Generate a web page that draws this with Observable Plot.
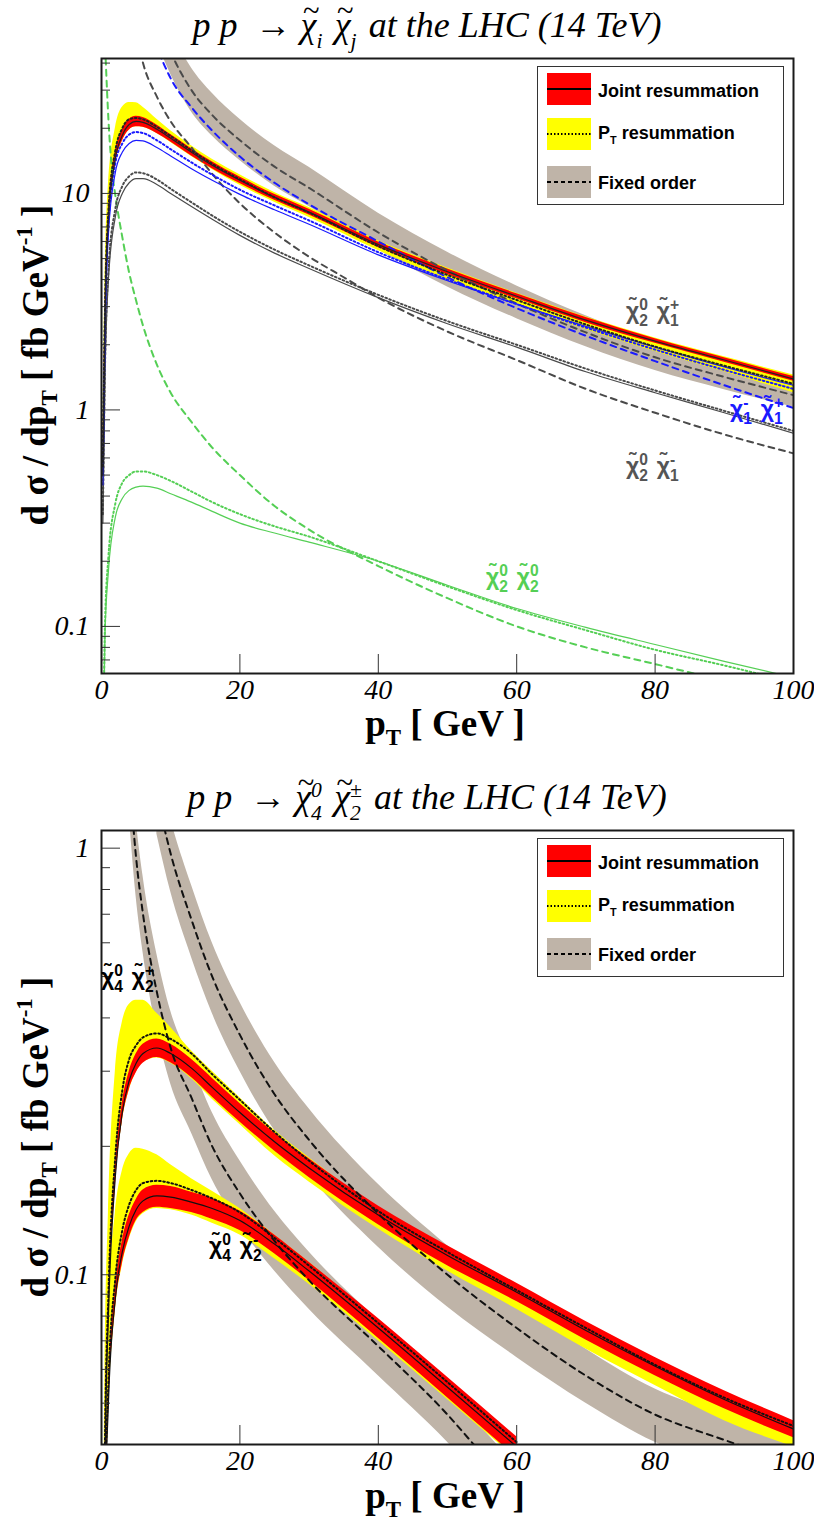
<!DOCTYPE html>
<html><head><meta charset="utf-8">
<script src="https://cdn.jsdelivr.net/npm/d3@7"></script>
<script src="https://cdn.jsdelivr.net/npm/@observablehq/plot@0.6"></script>
<style>
body{margin:0;background:#fff;}
#wrap{position:relative;width:814px;height:1530px;overflow:hidden;background:#fff;}
.panel{position:absolute;left:0;}
.panel text{font-family:"Liberation Serif",serif;font-style:italic;font-size:28px;}
.ov{position:absolute;white-space:nowrap;line-height:1;}
.title{font-family:"Liberation Serif",serif;font-style:italic;font-size:36px;transform:translateX(-50%);}
.tc{position:relative;display:inline-block;}
.tc::before{content:"~";position:absolute;left:0.08em;top:-0.36em;font-style:normal;font-size:0.85em;}
.axt{font-family:"Liberation Serif",serif;font-weight:bold;font-size:37px;}
.axt sub{font-size:0.62em;vertical-align:-0.4em;}
.axt sup{font-size:0.62em;vertical-align:0.7em;}
.ytit{transform:translate(-50%,-50%) rotate(-90deg);}
.xtit{transform:translateX(-50%);}
.lab{font-family:"Liberation Sans",sans-serif;font-weight:bold;font-size:23px;}
.ss{display:inline-block;vertical-align:-0.5em;font-size:0.68em;line-height:1.05;text-align:left;margin-right:0.15em;}
.ss span{display:block;}
.legend{position:absolute;width:247px;height:139px;border:1.5px solid #333;background:#fff;box-sizing:border-box;}
.legend .sw{position:absolute;left:9px;width:44px;height:32px;}
.legend .tx{position:absolute;left:60px;font-family:"Liberation Sans",sans-serif;font-weight:bold;font-size:18px;line-height:1;}
.legend .tx sub{font-size:0.6em;vertical-align:-0.45em;}
</style></head><body><div id="wrap"></div>
<script>
// ---------------- axis ticks ----------------
const xTicks = [0, 20, 40, 60, 80, 100];
const yTicksTop = [0.1, 1, 10];
const yMinorTop = [0.07,0.08,0.09,0.2,0.3,0.4,0.5,0.6,0.7,0.8,0.9,2,3,4,5,6,7,8,9,20,30,40];
const yTicksBot = [0.1, 1];
const yMinorBot = [0.04,0.05,0.06,0.07,0.08,0.09,0.2,0.3,0.4,0.5,0.6,0.7,0.8,0.9];

// ---------------- data: top panel (pp -> chi_i chi_j) ----------------
const pt = [0.2,0.5,1,2,3,4,5,6,8,10,13,16,20,25,30,40,50,60,70,80,90,100];

// chi2^0 chi1^+
const c21pJoint   = [0.5,2.5,7.5,14.5,18.5,20.8,21.5,21.3,19.8,18,15.5,13.5,11.5,9.6,8.2,5.8,4.35,3.35,2.6,2.08,1.7,1.39];
const c21pJointLo = [0.45,2.3,6.9,13.5,17.4,19.6,20.3,20.2,18.9,17.3,14.9,13.0,11.1,9.3,7.95,5.63,4.22,3.26,2.53,2.03,1.66,1.355];
const c21pJointHi = [0.55,2.7,8.1,15.5,19.6,22.0,22.7,22.4,20.7,18.7,16.1,14.0,11.9,9.9,8.45,5.97,4.48,3.44,2.67,2.13,1.74,1.425];
const c21pPt      = [0.55,2.8,8.3,15.8,20,22,22.3,22,20.3,18.4,15.8,13.7,11.6,9.6,8.15,5.7,4.2,3.22,2.48,1.96,1.6,1.32];
const c21pPtLo    = [0.45,2.3,6.9,13.5,17.4,19.6,20.3,20.2,18.9,17.2,14.8,12.9,10.9,9.1,7.75,5.45,4.0,3.06,2.35,1.86,1.5,1.2];
const c21pPtHi    = [0.7,4,11,20,25,26.3,26.2,25,22,19.5,16.6,14.4,12.2,10.1,8.6,6.05,4.52,3.46,2.69,2.15,1.76,1.45];
const ptFo21p     = [6,8,10,13,16,20,25,30,40,50,60,70,80,90,100];
const c21pFo      = [110,65,45,30,23,17.6,13.3,10.6,6.6,4.4,3.1,2.28,1.75,1.42,1.17];
const c21pFoLo    = [86,51,35.5,23.8,18.4,14.2,10.8,8.7,5.5,3.7,2.64,1.96,1.52,1.24,1.03];
const c21pFoHi    = [141,83,57,38,29,22,16.6,13.2,8.1,5.35,3.74,2.72,2.06,1.64,1.32];

// chi1^- chi1^+ (blue)
const c11Joint = [0.45,2.2,6.5,12.5,15.5,17,17.6,17.5,16.3,14.9,13,11.5,9.9,8.4,7.2,5.2,3.95,3.08,2.43,1.95,1.58,1.3];
const c11Pt    = [0.5,2.5,7.2,13.8,17,18.7,19.2,19,17.6,16,13.9,12.2,10.4,8.8,7.5,5.35,4.0,3.08,2.4,1.9,1.53,1.25];
const ptFo11   = [5,6,8,10,13,16,20,25,30,40,50,60,70,80,90,100];
const c11Fo    = [110,80,48,34,25,19.5,14.8,11.2,8.9,6.0,4.1,2.95,2.2,1.68,1.3,1.02];

// chi2^0 chi1^- (gray)
const c21mJoint = [0.3,1.4,4,7.8,10,11.2,11.7,11.7,11,10,8.7,7.6,6.4,5.3,4.5,3.3,2.5,1.95,1.5,1.2,0.97,0.78];
const c21mPt    = [0.33,1.55,4.4,8.5,10.8,12,12.5,12.4,11.6,10.5,9.1,7.9,6.65,5.5,4.65,3.4,2.57,2.0,1.55,1.23,0.99,0.8];
const ptFo21m   = [4,5,6,8,10,13,16,20,25,30,35,40,50,60,70,80,90,100];
const c21mFo    = [90,55,40,28,21.5,16.3,12.3,9.0,6.6,5.1,4.1,3.3,2.3,1.7,1.25,0.97,0.77,0.63];

// chi2^0 chi2^0 (green)
const c22Joint = [0.02,0.09,0.18,0.32,0.39,0.425,0.44,0.445,0.435,0.41,0.375,0.34,0.3,0.27,0.245,0.2,0.155,0.121,0.099,0.0825,0.069,0.058];
const c22Pt    = [0.022,0.1,0.21,0.37,0.46,0.5,0.52,0.52,0.5,0.47,0.42,0.375,0.33,0.29,0.26,0.2,0.153,0.119,0.096,0.078,0.066,0.055];
const ptFo22   = [0.6,1,1.5,2,3,4,5,6,8,10,13,16,20,25,30,40,50,60,70,80,90];
const c22Fo    = [42,22,13,9.8,6.3,4.3,3.2,2.45,1.62,1.2,0.88,0.67,0.5,0.36,0.28,0.19,0.135,0.1,0.08,0.067,0.056];

// ---------------- data: bottom panel (pp -> chi4^0 chi2^+-) ----------------
// chi4^0 chi2^+
const aJoint   = [0.006,0.035,0.08,0.17,0.24,0.285,0.313,0.33,0.34,0.33,0.305,0.275,0.24,0.205,0.178,0.138,0.111,0.091,0.074,0.061,0.051,0.0435];
const aJointLo = [0.0057,0.033,0.076,0.161,0.228,0.271,0.297,0.313,0.323,0.314,0.29,0.261,0.228,0.195,0.169,0.131,0.105,0.0865,0.0703,0.058,0.0485,0.0415];
const aJointHi = [0.0063,0.037,0.084,0.179,0.252,0.299,0.329,0.347,0.357,0.347,0.32,0.289,0.252,0.215,0.187,0.145,0.117,0.0955,0.0777,0.064,0.0535,0.0455];
const aPt      = [0.007,0.04,0.09,0.19,0.27,0.32,0.345,0.36,0.368,0.357,0.33,0.295,0.257,0.216,0.185,0.141,0.113,0.092,0.075,0.0615,0.0515,0.0442];
const aPtLo    = [0.0055,0.032,0.075,0.16,0.228,0.27,0.298,0.314,0.322,0.313,0.288,0.258,0.225,0.19,0.165,0.128,0.102,0.083,0.067,0.055,0.0455,0.0395];
const aPtHi    = [0.01,0.06,0.14,0.3,0.39,0.43,0.44,0.44,0.41,0.38,0.335,0.3,0.26,0.218,0.188,0.143,0.115,0.094,0.077,0.063,0.0525,0.0447];
const ptFoA    = [8,10,13,16,20,25,30,40,50,60,70,80,90,100];
const aFo      = [1.33,0.97,0.68,0.5,0.365,0.265,0.207,0.139,0.1,0.075,0.058,0.047,0.041,0.036];
const aFoLo    = [1.08,0.79,0.555,0.41,0.3,0.218,0.171,0.116,0.084,0.064,0.05,0.0405,0.0355,0.031];
const aFoHi    = [1.6,1.17,0.82,0.6,0.435,0.315,0.245,0.163,0.117,0.087,0.067,0.054,0.047,0.0415];

// chi4^0 chi2^-
const ptB      = [0.2,0.5,1,2,3,4,5,6,8,10,13,16,20,25,30,40,50,60];
const bJoint   = [0.004,0.025,0.05,0.088,0.113,0.13,0.142,0.149,0.153,0.152,0.148,0.143,0.134,0.118,0.102,0.075,0.0545,0.0395];
const bJointLo = [0.0038,0.0235,0.047,0.083,0.106,0.122,0.134,0.14,0.144,0.143,0.14,0.135,0.127,0.112,0.097,0.071,0.0515,0.0373];
const bJointHi = [0.0042,0.0265,0.053,0.093,0.12,0.138,0.15,0.158,0.162,0.161,0.156,0.151,0.141,0.124,0.107,0.079,0.0575,0.0417];
const bPt      = [0.0045,0.028,0.056,0.098,0.127,0.146,0.158,0.164,0.166,0.164,0.158,0.151,0.14,0.122,0.105,0.077,0.056,0.0405];
const bPtLo    = [0.0037,0.023,0.046,0.082,0.105,0.121,0.133,0.139,0.143,0.142,0.138,0.132,0.124,0.109,0.095,0.07,0.051,0.037];
const bPtHi    = [0.006,0.04,0.08,0.14,0.175,0.192,0.198,0.197,0.191,0.181,0.168,0.157,0.143,0.124,0.107,0.078,0.0567,0.041];
const ptFoB    = [4,5,6,8,10,13,16,20,25,30,40,50,55,60];
const bFo      = [1.5,0.95,0.7,0.46,0.34,0.26,0.2,0.155,0.12,0.097,0.068,0.047,0.038,0.031];
const bFoLo    = [1.2,0.77,0.57,0.375,0.28,0.215,0.167,0.13,0.102,0.083,0.058,0.0405,0.033,0.027];
const bFoHi    = [1.85,1.17,0.86,0.565,0.415,0.315,0.24,0.185,0.141,0.113,0.078,0.0543,0.0437,0.0357];

// ---------------- colours ----------------
const RED = "#ff0000", YEL = "#ffff00", TAN = "#bfb4a8", BLUE = "#1a1aff", GREEN = "#55cf55", GRAY = "#4a4a4a";
const DOT = "1.6,2.6", DASH = "6,5";

function rows(xs, ys) { return xs.map((x, i) => ({x, y: ys[i]})); }
function band(xs, lo, hi, fill) {
  return Plot.areaY(xs.map((x, i) => ({x, y1: lo[i], y2: hi[i]})),
    {x: "x", y1: "y1", y2: "y2", fill, curve: "monotone-x", clip: true});
}
function line(xs, ys, stroke, dash, w) {
  return Plot.lineY(rows(xs, ys), {x: "x", y: "y", stroke, strokeWidth: w, strokeDasharray: dash, curve: "monotone-x", clip: true});
}
const tickFont = {fontFamily: "Liberation Serif", fontStyle: "italic", fontSize: 28};
function axes(major, minor) {
  return [
    Plot.axisX({ticks: xTicks, tickSize: -19, tickPadding: 25, stroke: "#333", fill: "#000", tickFormat: d => String(d), label: null, ...tickFont}),
    Plot.axisY({ticks: major, tickSize: -19, tickPadding: 31, stroke: "#333", fill: "#000", tickFormat: d => String(d), label: null, ...tickFont}),
    Plot.axisY({ticks: minor, tickSize: -9, tickPadding: 3, stroke: "#333", tickFormat: () => "", label: null}),
    Plot.frame({stroke: "#1a1a1a", strokeWidth: 2})
  ];
}
const common = {
  width: 814, height: 765, marginLeft: 101, marginRight: 21,
  x: {domain: [0, 100], label: null},
  style: {background: "transparent", overflow: "visible"}
};

const plotTop = Plot.plot({
  ...common, marginTop: 58, marginBottom: 92,
  y: {type: "log", domain: [0.0606, 42], label: null},
  marks: [
    band(ptFo21p, c21pFoLo, c21pFoHi, TAN),
    band(pt, c21pPtLo, c21pPtHi, YEL),
    band(pt, c21pJointLo, c21pJointHi, RED),
    line(ptFo22, c22Fo, GREEN, DASH, 2),
    line(ptFo21m, c21mFo, GRAY, DASH, 2),
    line(ptFo11, c11Fo, BLUE, DASH, 2),
    line(ptFo21p, c21pFo, GRAY, DASH, 2),
    line(pt, c22Pt, GREEN, DOT, 2),
    line(pt, c22Joint, GREEN, null, 1.2),
    line(pt, c21mPt, GRAY, DOT, 2),
    line(pt, c21mJoint, GRAY, null, 1.2),
    line(pt, c11Pt, BLUE, DOT, 2),
    line(pt, c11Joint, BLUE, null, 1.2),
    line(pt, c21pPt, "#222", DOT, 2),
    line(pt, c21pJoint, "#222", null, 1.2),
    ...axes(yTicksTop, yMinorTop)
  ]
});

const plotBot = Plot.plot({
  ...common, marginTop: 65, marginBottom: 86,
  y: {type: "log", domain: [0.04, 1.1], label: null},
  marks: [
    band(ptFoA, aFoLo, aFoHi, TAN),
    band(ptFoB, bFoLo, bFoHi, TAN),
    band(pt, aPtLo, aPtHi, YEL),
    band(ptB, bPtLo, bPtHi, YEL),
    band(pt, aJointLo, aJointHi, RED),
    band(ptB, bJointLo, bJointHi, RED),
    line(ptFoA, aFo, "#111", DASH, 2),
    line(ptFoB, bFo, "#111", DASH, 2),
    line(pt, aPt, "#111", DOT, 2),
    line(ptB, bPt, "#111", DOT, 2),
    line(pt, aJoint, "#111", null, 1.2),
    line(ptB, bJoint, "#111", null, 1.2),
    ...axes(yTicksBot, yMinorBot)
  ]
});

const wrap = document.getElementById("wrap");
plotTop.classList.add("panel"); plotTop.style.top = "0px";
plotBot.classList.add("panel"); plotBot.style.top = "765px";
wrap.appendChild(plotTop); wrap.appendChild(plotBot);

function ov(html, cls, left, topPx, color) {
  const d = document.createElement("div");
  d.className = "ov " + cls;
  d.style.left = left + "px"; d.style.top = topPx + "px";
  if (color) d.style.color = color;
  d.innerHTML = html;
  wrap.appendChild(d);
  return d;
}
const CHI = "\u03C7\u0303";
const chi = (sup, sub) => `${CHI}<span class="ss"><span>${sup}</span><span>${sub}</span></span>`;
const chiT = (sup, sub) => `<span class="tc">χ</span><span class="ss" style="font-size:0.6em"><span>${sup}</span><span>${sub}</span></span>`;

// titles
ov(`p p &nbsp;→ ${chiT("&nbsp;", "i")} ${chiT("&nbsp;", "j")} at the LHC (14 TeV)`, "title", 427, 7);
ov(`p p &nbsp;→ ${chiT("0", "4")} ${chiT("±", "2")} at the LHC (14 TeV)`, "title", 427, 779);

// axis titles
for (const [cy, ty] of [[365, 705], [1137, 1477]]) {
  ov(`d σ / dp<sub>T</sub> [ fb GeV<sup>-1</sup> ]`, "axt ytit", 38, cy);
  ov(`p<sub>T</sub> [ GeV ]`, "axt xtit", 445, ty);
}

// legends
const legHTML = `
<div class="sw" style="top:6px;background:${RED}"><svg width="44" height="32"><line x1="0" x2="44" y1="16" y2="16" stroke="#000" stroke-width="2"/></svg></div>
<div class="tx" style="top:15px">Joint resummation</div>
<div class="sw" style="top:51px;background:${YEL}"><svg width="44" height="32"><line x1="0" x2="44" y1="16" y2="16" stroke="#000" stroke-width="2" stroke-dasharray="1.5,2"/></svg></div>
<div class="tx" style="top:57px">P<sub>T</sub> resummation</div>
<div class="sw" style="top:99px;background:${TAN}"><svg width="44" height="32"><line x1="0" x2="44" y1="16" y2="16" stroke="#000" stroke-width="2" stroke-dasharray="4,3"/></svg></div>
<div class="tx" style="top:107px">Fixed order</div>`;
for (const t of [66, 838]) {
  const l = document.createElement("div");
  l.className = "legend"; l.style.left = "537px"; l.style.top = t + "px";
  l.innerHTML = legHTML; wrap.appendChild(l);
}

// curve labels
ov(`${chi("0", "2")} ${chi("+", "1")}`, "lab", 626, 297, "#555");
ov(`${chi("-", "1")} ${chi("+", "1")}`, "lab", 730, 395, BLUE);
ov(`${chi("0", "2")} ${chi("-", "1")}`, "lab", 626, 452, "#555");
ov(`${chi("0", "2")} ${chi("0", "2")}`, "lab", 486, 563, GREEN);
ov(`${chi("0", "4")} ${chi("+", "2")}`, "lab", 101, 963, "#000");
ov(`${chi("0", "4")} ${chi("-", "2")}`, "lab", 209, 1232, "#000");
</script></body></html>
